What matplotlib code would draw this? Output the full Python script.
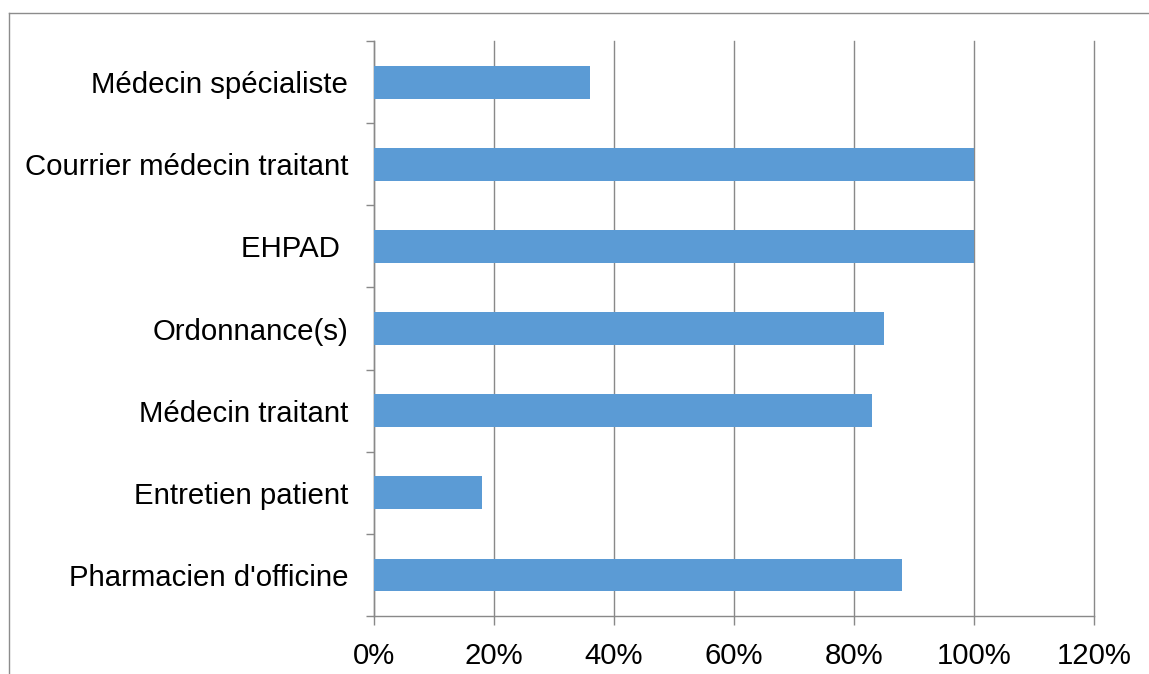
import matplotlib.pyplot as plt
import numpy as np
from matplotlib.lines import Line2D
from matplotlib.ticker import FixedLocator, PercentFormatter

plt.rcParams['font.family'] = ['Liberation Sans', 'DejaVu Sans']

# categories listed bottom to top
categories = ["Pharmacien d'officine", "Entretien patient", "Médecin traitant",
              "Ordonnance(s)", "EHPAD ", "Courrier médecin traitant", "Médecin spécialiste"]
values = [88, 18, 83, 85, 100, 100, 36]
xticks = [0, 20, 40, 60, 80, 100, 120]

grey = '#898989'

fig = plt.figure(figsize=(11.49, 6.74), dpi=100)
ax = fig.add_axes([374/1149, 1 - 616/674, 720/1149, 575/674])

y = np.arange(len(categories))
ax.barh(y, values, height=0.4, color='#5B9BD5', zorder=3)

ax.set_xlim(0, 120)
ax.set_ylim(-0.5, len(categories) - 0.5)
ax.set_xticks(xticks)
ax.xaxis.set_major_formatter(PercentFormatter(decimals=0))
ax.grid(axis='x', color=grey, linewidth=1, zorder=0)
for gl in ax.get_xgridlines():
    gl.set_clip_on(False)

ax.set_yticks(y)
ax.set_yticklabels(categories)
ax.yaxis.set_minor_locator(FixedLocator(np.arange(-0.5, len(categories), 1)))
ax.tick_params(axis='y', which='major', length=0, pad=18.5, labelsize=21.2)
ax.tick_params(axis='y', which='minor', length=6, color=grey, width=1)
ax.tick_params(axis='x', length=6.5, color=grey, width=1, pad=12, labelsize=21.2)

for s in ['top', 'right']:
    ax.spines[s].set_visible(False)
for s in ['left', 'bottom']:
    ax.spines[s].set_color(grey)
    ax.spines[s].set_linewidth(1)

# chart area border (only left and top visible in the crop)
fig.add_artist(Line2D([8.5/1149, 8.5/1149], [0, 1 - 12.5/674], color='#8c8c8c', lw=1))
fig.add_artist(Line2D([8.5/1149, 1], [1 - 12.5/674, 1 - 12.5/674], color='#8c8c8c', lw=1))

fig.savefig('out.png', dpi=100)
